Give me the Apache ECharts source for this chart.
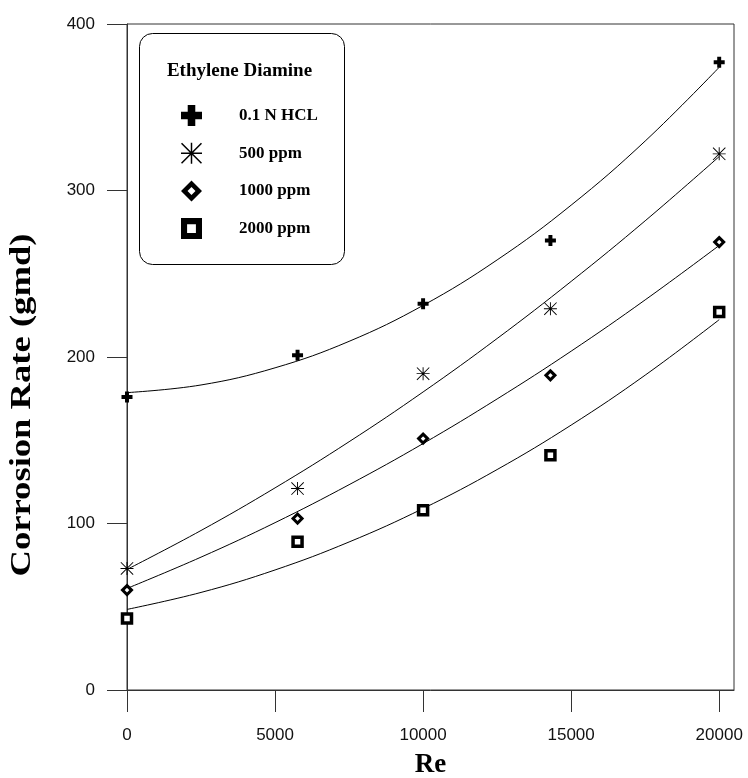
<!DOCTYPE html>
<html>
<head>
<meta charset="utf-8">
<script src="https://cdn.jsdelivr.net/npm/echarts/dist/echarts.min.js"></script>
<style>
  html, body { margin: 0; padding: 0; background: #fff; }
  #chart { width: 748px; height: 778px; }
</style>
</head>
<body>
<div id="chart"></div>
<script>
// Measured corrosion rates (gmd) against Reynolds number
const reValues = [0, 5760, 10000, 14300, 20000];
const hcl      = [176, 201, 232, 270, 377];
const ppm500   = [73, 121, 190, 229, 322];
const ppm1000  = [60, 103, 151, 189, 269];
const ppm2000  = [43, 89, 108, 141, 227];

// Fitted trend curves, sampled along Re
const fitRe      = [0, 2500, 5000, 7500, 10000, 12500, 15000, 17500, 20000];
const hclFit     = [178.6, 183.2, 193.5, 209.4, 231.0, 258.3, 291.2, 329.7, 374.0];
const ppm500Fit  = [72.4, 95.8, 121.4, 149.1, 179.0, 211.1, 245.4, 281.8, 320.4];
const ppm1000Fit = [61.0, 79.8, 100.5, 123.3, 148.0, 174.8, 203.5, 234.3, 267.0];
const ppm2000Fit = [48.4, 58.6, 72.1, 88.9, 109.0, 132.4, 159.1, 189.1, 222.4];

// Axis ticks
const reTicks   = [0, 5000, 10000, 15000, 20000];
const rateTicks = [0, 100, 200, 300, 400];

const seriesNames = ['0.1 N HCL', '500 ppm', '1000 ppm', '2000 ppm'];

// Marker shapes
const PLUS = 'path://M32 0H68V32H100V68H68V100H32V68H0V32H32Z';
const STAR = 'path://M0 46.5H100V53.5H0Z M46.5 0H53.5V100H46.5Z M0 5L5 0L100 95L95 100Z M95 0L100 5L5 100L0 95Z';
// hollow outlines (inner contour wound the other way leaves a hole)
const RING_DIAMOND = 'path://M50 0L100 50L50 100L0 50Z M50 31L31 50L50 69L69 50Z';
const RING_SQUARE  = 'path://M0 0H100V100H0Z M29 29V71H71V29Z';

const pair = (xs, ys) => xs.map((x, i) => [x, ys[i]]);

const ink = '#000';
const axisInk = '#333';
const serif = 'Liberation Serif';
const sans = 'Liberation Sans';

function scatter(name, values, symbol, size, style) {
  return {
    name, type: 'scatter', data: pair(reValues, values),
    symbol, symbolSize: size, z: 5, clip: false,
    itemStyle: Object.assign({ opacity: 1 }, style),
    emphasis: { disabled: true }
  };
}
function curve(name, values) {
  return {
    name, type: 'line', data: pair(fitRe, values),
    smooth: 0.4, showSymbol: false, symbol: 'none', z: 3,
    lineStyle: { color: ink, width: 1 },
    emphasis: { disabled: true }
  };
}

const chart = echarts.init(document.getElementById('chart'), null, { renderer: 'canvas' });

chart.setOption({
  animation: false,
  backgroundColor: '#fff',
  grid: {
    left: 127, right: 14, top: 24, bottom: 88,
    show: true, borderColor: axisInk, borderWidth: 1, backgroundColor: 'transparent'
  },
  xAxis: {
    type: 'value', min: 0, max: 20500, interval: 5000,
    axisLine: { show: true, lineStyle: { color: axisInk, width: 1 } },
    axisTick: { show: true, length: 22, customValues: reTicks, lineStyle: { color: axisInk } },
    axisLabel: {
      customValues: reTicks, margin: 37, color: '#111', fontFamily: sans, fontSize: 17,
      formatter: v => String(v)
    },
    splitLine: { show: false }
  },
  yAxis: {
    type: 'value', min: 0, max: 400, interval: 100,
    axisLine: { show: true, lineStyle: { color: axisInk, width: 1 } },
    axisTick: { show: true, length: 20, customValues: rateTicks, lineStyle: { color: axisInk } },
    axisLabel: {
      customValues: rateTicks, margin: 32, color: '#111', fontFamily: sans, fontSize: 17,
      formatter: v => String(v)
    },
    splitLine: { show: false }
  },
  legend: {
    orient: 'vertical', left: 181, top: 105, padding: 0,
    itemWidth: 21, itemHeight: 21, itemGap: 16.7,
    selectedMode: false,
    textStyle: { fontFamily: serif, fontWeight: 'bold', fontSize: 17, color: ink, padding: [0, 0, 0, 32] },
    data: [
      { name: seriesNames[0], icon: PLUS, itemStyle: { color: ink, borderWidth: 0 } },
      { name: seriesNames[1], icon: STAR, itemStyle: { color: ink, borderWidth: 0 } },
      { name: seriesNames[2], icon: RING_DIAMOND, itemStyle: { color: ink, borderWidth: 0 } },
      { name: seriesNames[3], icon: RING_SQUARE, itemStyle: { color: ink, borderWidth: 0 } }
    ]
  },
  graphic: [
    {
      type: 'rect', left: 137, top: 31, z: 10, silent: true,
      shape: { width: 205, height: 231, r: 13 },
      style: { fill: 'none', stroke: ink, lineWidth: 1 }
    },
    {
      type: 'text', x: 239.5, y: 71, z: 10, silent: true,
      style: {
        text: 'Ethylene Diamine', fill: ink, align: 'center', verticalAlign: 'middle',
        fontFamily: serif, fontWeight: 'bold', fontSize: 19
      }
    },
    {
      type: 'text', x: 22, y: 405, rotation: Math.PI / 2, scaleX: 1.22, z: 10, silent: true,
      style: {
        text: 'Corrosion Rate (gmd)', fill: ink, align: 'center', verticalAlign: 'middle',
        fontFamily: serif, fontWeight: 'bold', fontSize: 30
      }
    },
    {
      type: 'text', x: 430.5, y: 765, z: 10, silent: true,
      style: {
        text: 'Re', fill: ink, align: 'center', verticalAlign: 'middle',
        fontFamily: serif, fontWeight: 'bold', fontSize: 27
      }
    }
  ],
  series: [
    curve('0.1 N HCL fit', hclFit),
    curve('500 ppm fit', ppm500Fit),
    curve('1000 ppm fit', ppm1000Fit),
    curve('2000 ppm fit', ppm2000Fit),
    scatter(seriesNames[0], hcl, PLUS, 11, { color: ink }),
    scatter(seriesNames[1], ppm500, STAR, 13, { color: ink }),
    scatter(seriesNames[2], ppm1000, 'diamond', 9, { color: '#fff', borderColor: ink, borderWidth: 3 }),
    scatter(seriesNames[3], ppm2000, 'rect', 9, { color: '#fff', borderColor: ink, borderWidth: 3.5 })
  ]
});
</script>
</body>
</html>
